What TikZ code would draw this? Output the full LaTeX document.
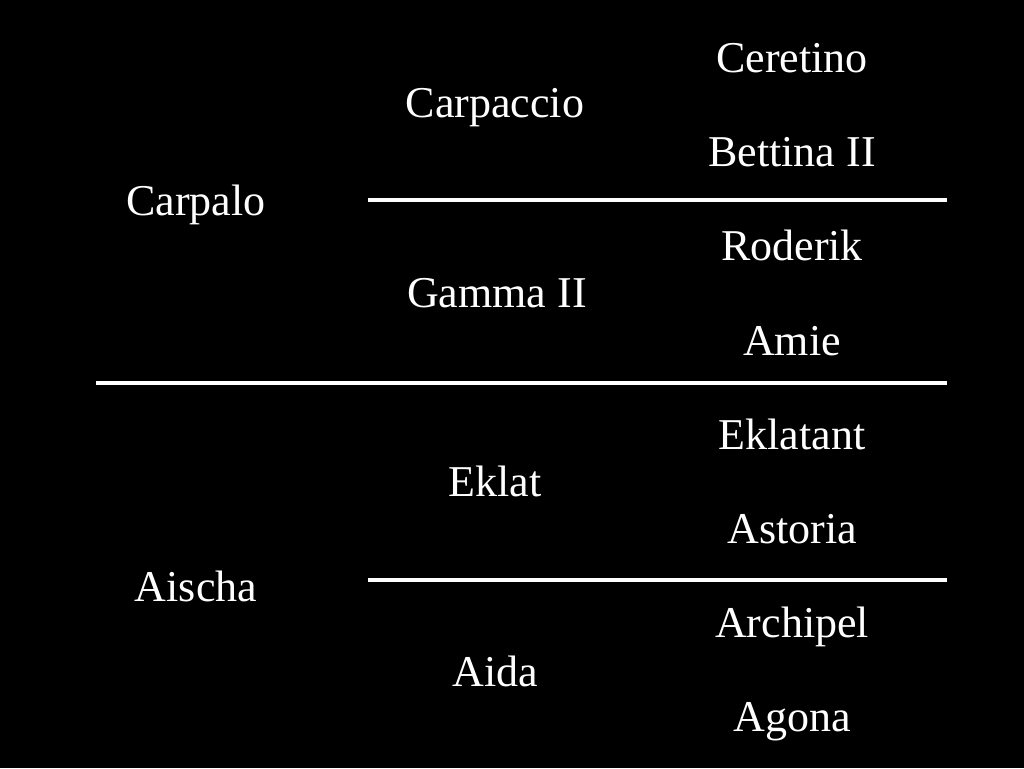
\documentclass[tikz,border=0pt]{standalone}
\usepackage{fontspec}
\setmainfont{Liberation Serif}
\tikzstyle{horse}=[text=white,anchor=base,inner sep=0pt,font=\fontsize{44}{50}\selectfont]
\tikzstyle{rule}=[draw=white,line width=4pt]

\begin{document}
\begin{tikzpicture}[x=1pt,y=-1pt]
    \fill[black] (0,0) rectangle (1024,768);
    \useasboundingbox (0,0) rectangle (1024,768);
    % sire and dam
    \node[horse] (s)  at (196,215) {Carpalo};
    \node[horse] (d)  at (196,601) {Aischa};
    % grandparents
    \node[horse] (ss) at (495,117) {Carpaccio};
    \node[horse] (sd) at (497,307) {Gamma II};
    \node[horse] (ds) at (495,496) {Eklat};
    \node[horse] (dd) at (495,686) {Aida};
    % great-grandparents
    \node[horse] (sss) at (792,72)  {Ceretino};
    \node[horse] (ssd) at (792,166) {Bettina II};
    \node[horse] (sds) at (792,260) {Roderik};
    \node[horse] (sdd) at (792,355) {Amie};
    \node[horse] (dss) at (792,449) {Eklatant};
    \node[horse] (dsd) at (792,543) {Astoria};
    \node[horse] (dds) at (792,637) {Archipel};
    \node[horse] (ddd) at (792,731) {Agona};

    \coordinate (a1) at (368,200);
    \coordinate (a2) at (947,200);
    \coordinate (b1) at (96,383);
    \coordinate (b2) at (947,383);
    \coordinate (c1) at (368,580);
    \coordinate (c2) at (947,580);
    \foreach \from/\to in {a1/a2,b1/b2,c1/c2}
    \draw[rule] (\from) -- (\to);
\end{tikzpicture}
\end{document}
